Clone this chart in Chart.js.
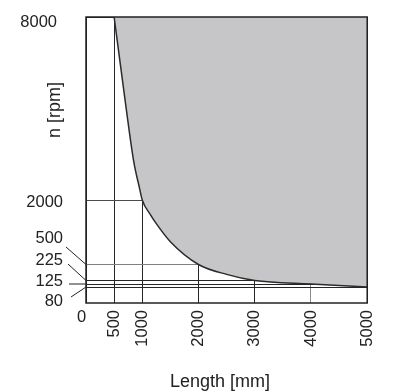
<!DOCTYPE html>
<html>
<head>
<meta charset="utf-8">
<script src="https://cdn.jsdelivr.net/npm/chart.js@4.4.0/dist/chart.umd.min.js"></script>
<style>
  html, body { margin: 0; padding: 0; background: #fff; }
</style>
</head>
<body>
<canvas id="speedChart" width="394" height="392"></canvas>
<script>
// curve: length [mm] -> max speed [rpm]
let lengths = [500, 700, 850, 950, 1000, 1150, 1250, 1500, 2000, 2500, 3000, 4000, 5000];
let speeds = [8000, 5200, 3250, 2400, 2000, 1650, 1450, 1030, 500, 330, 225, 125, 80];

let xTicks = [0, 500, 1000, 2000, 3000, 4000, 5000];
let yTicks = [80, 125, 225, 500, 2000, 8000];

// the rpm axis is not linear, each break sits at a share of the axis height
let yBreaks = [0, 80, 125, 225, 500, 2000, 8000];
let yBreakPos = [0, 0.0559, 0.0664, 0.0787, 0.1346, 0.3601, 1];

// where the y labels sit and where their leader lines start
let yLabelX = [63, 63, 63, 63, 63, 57];
let yLabelBase = [306, 286, 265, 243, 207, 27];
let leaderFrom = [[71, 297], [69, 284], [68, 264], [66, 247], null, null];

const textFont = "'Liberation Sans', Arial, sans-serif";

function rpmToShare(v) {
  for (let i = 1; i < yBreaks.length; i++) {
    if (v <= yBreaks[i] || i === yBreaks.length - 1) {
      let t = (v - yBreaks[i - 1]) / (yBreaks[i] - yBreaks[i - 1]);
      return yBreakPos[i - 1] + t * (yBreakPos[i] - yBreakPos[i - 1]);
    }
  }
}

function shareToRpm(s) {
  for (let i = 1; i < yBreakPos.length; i++) {
    if (s <= yBreakPos[i] || i === yBreakPos.length - 1) {
      let t = (s - yBreakPos[i - 1]) / (yBreakPos[i] - yBreakPos[i - 1]);
      return yBreaks[i - 1] + t * (yBreaks[i] - yBreaks[i - 1]);
    }
  }
}

class RpmScale extends Chart.LinearScale {
  buildTicks() {
    return yTicks.map((v) => ({ value: v }));
  }
  getPixelForValue(value) {
    if (value === null || value === undefined) return NaN;
    return this.getPixelForDecimal(rpmToShare(value));
  }
  getValueForPixel(pixel) {
    return shareToRpm(this.getDecimalForPixel(pixel));
  }
}
RpmScale.id = "rpm";
RpmScale.defaults = {};
Chart.register(RpmScale);

const frameAndLabels = {
  id: "frameAndLabels",
  afterDraw(chart) {
    const ctx = chart.ctx;
    const area = chart.chartArea;
    const yScale = chart.scales.y;
    ctx.save();
    ctx.strokeStyle = "#222";
    ctx.lineWidth = 1.5;
    ctx.strokeRect(area.left, area.top, area.right - area.left, area.bottom - area.top);

    ctx.lineWidth = 1;
    ctx.fillStyle = "#222";
    ctx.font = "16.5px " + textFont;
    ctx.textAlign = "right";
    ctx.textBaseline = "alphabetic";
    yTicks.forEach((v, i) => {
      ctx.fillText(String(v), yLabelX[i], yLabelBase[i]);
      if (leaderFrom[i]) {
        ctx.beginPath();
        ctx.moveTo(leaderFrom[i][0], leaderFrom[i][1]);
        ctx.lineTo(area.left, yScale.getPixelForValue(v));
        ctx.stroke();
      }
    });
    ctx.textAlign = "center";
    ctx.fillText("0", 81.5, 322);

    ctx.font = "18px " + textFont;
    ctx.fillText("Length [mm]", 220, 387);
    ctx.translate(60, 110);
    ctx.rotate(-Math.PI / 2);
    ctx.fillText("n [rpm]", 0, 0);
    ctx.restore();
  },
};

let speedChart = new Chart("speedChart", {
  type: "line",
  data: {
    datasets: [
      {
        data: lengths.map((l, i) => ({ x: l, y: speeds[i] })),
        borderColor: "#2b2b2b",
        borderWidth: 1.5,
        backgroundColor: "#c6c6c8",
        fill: "end",
        pointRadius: 0,
        cubicInterpolationMode: "monotone",
      },
    ],
  },
  options: {
    responsive: false,
    animation: false,
    layout: { padding: { top: 17, right: 21, left: 0, bottom: 0 } },
    plugins: { legend: { display: false }, tooltip: { enabled: false } },
    scales: {
      x: {
        type: "linear",
        min: 0,
        max: 5000,
        afterBuildTicks: (s) => {
          s.ticks = xTicks.map((v) => ({ value: v }));
        },
        afterFit: (s) => {
          s.height = 89;
        },
        grid: {
          drawTicks: false,
          lineWidth: 1,
          color: (c) => (c.tick && c.tick.value === 4000 ? "#8c8c8c" : "#262626"),
        },
        border: { display: false },
        ticks: {
          autoSkip: false,
          minRotation: 90,
          maxRotation: 90,
          padding: 7,
          color: "#222",
          font: { family: textFont, size: 16.5 },
          callback: (v) => (v === 0 ? "" : String(v)),
        },
      },
      y: {
        type: "rpm",
        min: 0,
        max: 8000,
        afterFit: (s) => {
          s.width = 86;
        },
        grid: {
          drawTicks: false,
          lineWidth: 1,
          color: (c) => {
            if (!c.tick) return "#262626";
            if (c.tick.value === 500) return "#808080";
            if (c.tick.value === 2000) return "#4a4a4a";
            return "#262626";
          },
        },
        border: { display: false },
        ticks: { display: false },
      },
    },
  },
  plugins: [frameAndLabels],
});
</script>
</body>
</html>
